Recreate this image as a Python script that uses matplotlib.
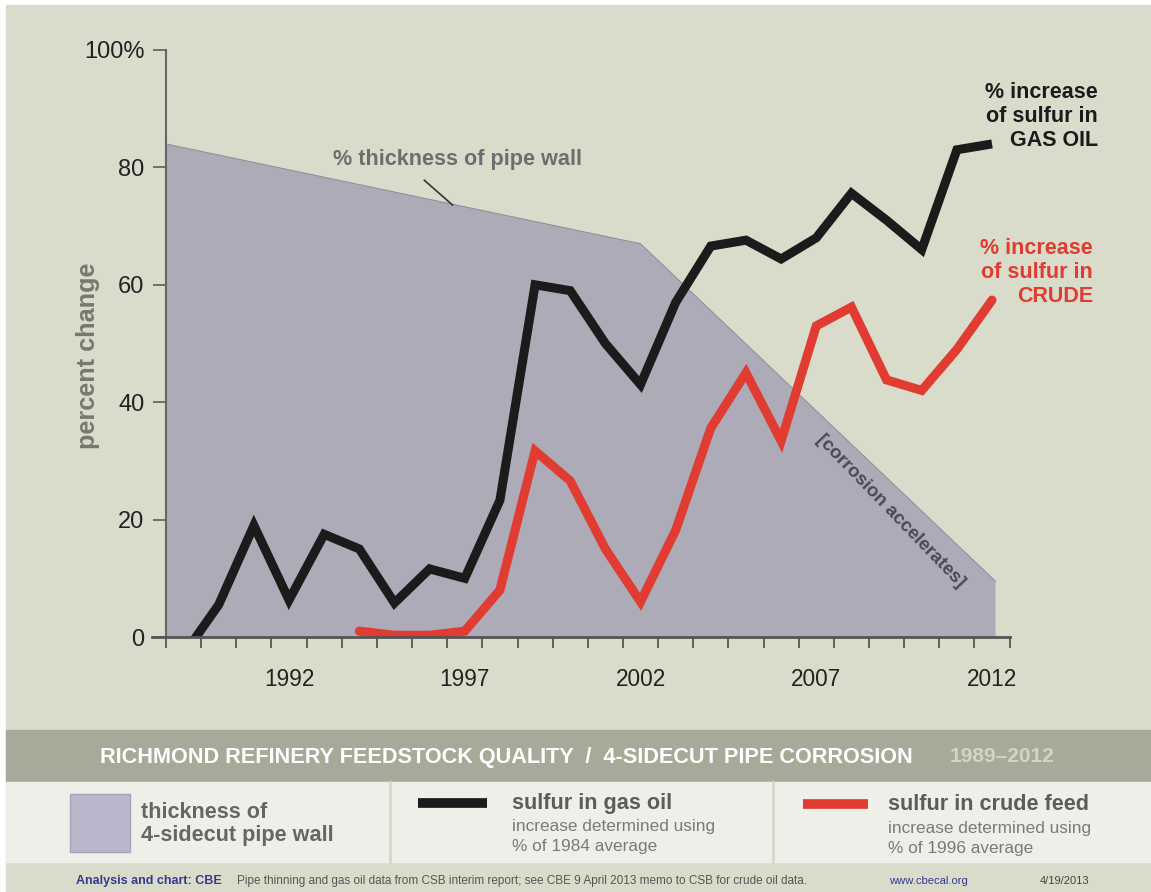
import matplotlib.pyplot as plt
from matplotlib.patches import Rectangle
import numpy as np

plt.rcParams['font.family'] = ['Liberation Sans', 'DejaVu Sans']

# data
years = list(range(1989, 2013))
gas_oil = [-3, 5.5, 19, 6.3, 17.5, 15, 5.8, 11.6, 10, 23.3, 60, 59, 50, 43,
           57, 66.6, 67.6, 64.4, 68, 75.6, 71, 66, 83, 84]
crude_years = list(range(1994, 2013))
crude = [1, 0.3, 0.3, 1, 8, 31.7, 26.6, 15, 6, 18.2, 35.6, 45, 33.4, 53,
         56.2, 43.8, 42, 49, 57.4]
wall_years = [1988.5, 2002, 2012.1]
wall = [84, 67, 9.5]
year_labels = [1992, 1997, 2002, 2007, 2012]
y_ticks = [0, 20, 40, 60, 80, 100]
y_labels = ['0', '20', '40', '60', '80', '100%']

W, H = 1151, 892
BG = '#dadccb'
WALL = '#adabb8'
BLACK = '#1b1b1b'
RED = '#e03c31'

fig = plt.figure(figsize=(W / 100, H / 100), dpi=100, facecolor='white')

# overlay in pixel coords for background, bands, legend, footer
ov = fig.add_axes([0, 0, 1, 1], zorder=-1)
ov.set_xlim(0, W)
ov.set_ylim(H, 0)
ov.axis('off')
ov.add_patch(Rectangle((6, 5), W, H, color=BG))
ov.add_patch(Rectangle((6, 730), W, 52, color='#a8aa99'))
ov.add_patch(Rectangle((6, 782), W, 80, color='#efefe9'))
for xs in (390, 773):
    ov.plot([xs, xs], [782, 862], color='#d6d7c9', lw=2)

ov.text(100, 757, 'RICHMOND REFINERY FEEDSTOCK QUALITY  /  4-SIDECUT PIPE CORROSION',
        color='white', fontsize=15.6, fontweight='bold', va='center')
ov.text(950, 757, '1989\u20132012', color='#d2d4c6', fontsize=15,
        fontweight='bold', va='center')

# legend
ov.add_patch(Rectangle((70, 794), 60, 58, facecolor='#b9b7cb',
                       edgecolor='#a6a4ba', lw=1))
ov.text(141, 813, 'thickness of', color='#666666', fontsize=15.6,
        fontweight='bold', va='center')
ov.text(141, 835, '4-sidecut pipe wall', color='#666666', fontsize=15.6,
        fontweight='bold', va='center')

ov.plot([418, 487], [803, 803], color=BLACK, lw=7, solid_capstyle='butt')
ov.text(512, 804, 'sulfur in gas oil', color='#5c5c5c', fontsize=15.6,
        fontweight='bold', va='center')
ov.text(512, 827, 'increase determined using', color='#7a7a7a',
        fontsize=12.4, va='center')
ov.text(512, 847, '% of 1984 average', color='#7a7a7a', fontsize=12.4,
        va='center')

ov.plot([803, 868], [804, 804], color=RED, lw=7, solid_capstyle='butt')
ov.text(888, 805, 'sulfur in crude feed', color='#5c5c5c', fontsize=15.6,
        fontweight='bold', va='center')
ov.text(888, 828, 'increase determined using', color='#7a7a7a',
        fontsize=12.4, va='center')
ov.text(888, 848, '% of 1996 average', color='#7a7a7a', fontsize=12.4,
        va='center')

# footer
ov.text(76, 881, 'Analysis and chart: CBE', color='#353b8c', fontsize=9,
        fontweight='bold', va='center')
ov.text(237, 881, 'Pipe thinning and gas oil data from CSB interim report; '
        'see CBE 9 April 2013 memo to CSB for crude oil data.',
        color='#555555', fontsize=8.5, va='center')
ov.text(889, 881, 'www.cbecal.org', color='#353b8c', fontsize=8.1, va='center')
ov.text(1040, 881, '4/19/2013', color='#444444', fontsize=8, va='center')

# series labels
for i, s in enumerate(['% increase', 'of sulfur in', 'GAS OIL']):
    ov.text(1098, 92 + i * 24.5, s, color=BLACK, fontsize=15.5,
            fontweight='bold', ha='right', va='center')
for i, s in enumerate(['% increase', 'of sulfur in', 'CRUDE']):
    ov.text(1093, 248 + i * 24.5, s, color=RED, fontsize=15.5,
            fontweight='bold', ha='right', va='center')
ov.text(88, 356, 'percent change', color='#77786e', fontsize=18.2,
        fontweight='bold', rotation=90, ha='center', va='center')

# main chart
ax = fig.add_axes([166 / W, (H - 637) / H, (1009.6 - 166) / W, (637 - 50) / H])
ax.patch.set_alpha(0)
ax.set_xlim(1988.5, 2012.5)
ax.set_ylim(0, 100)

ax.fill_between(wall_years, wall, 0, facecolor=WALL, edgecolor='none', zorder=1)
ax.plot(wall_years, wall, color='#8e8c9a', lw=0.7, zorder=1.5)
ax.plot(years, gas_oil, color=BLACK, lw=6.5, solid_joinstyle='miter',
        solid_capstyle='butt', zorder=3)
ax.plot(crude_years, crude, color=RED, lw=6.5, solid_joinstyle='miter',
        solid_capstyle='round', zorder=3)

ax.text(1996.8, 81.3, '% thickness of pipe wall', color='#6e6e6e', fontsize=15.6,
        fontweight='bold', ha='center', va='center')
ax.plot([1995.85, 1996.65], [77.8, 73.6], color='#333333', lw=1.2, zorder=2)
ax.text(2009.1, 21.5, '[corrosion accelerates]', color='#4a4a55', fontsize=13.5,
        fontweight='bold', rotation=-46, rotation_mode='anchor',
        ha='center', va='center')

for sp in ('top', 'right', 'bottom'):
    ax.spines[sp].set_visible(False)
ax.spines['left'].set_color('#666666')
ax.spines['left'].set_linewidth(1.5)
ax.spines['left'].set_bounds(0, 100)
ax.plot([1988.1, 2012.5], [0, 0], color='#555555', lw=2, clip_on=False, zorder=4)

ax.set_yticks(y_ticks)
ax.set_yticklabels(y_labels)
ax.tick_params(axis='y', length=9.5, width=1.3, color='#666666', pad=6,
               labelsize=17, labelcolor='#222222')
ax.set_xticks(year_labels)
ax.set_xticklabels([str(y) for y in year_labels])
ax.set_xticks(np.arange(1988.5, 2013, 1), minor=True)
ax.tick_params(axis='x', which='major', length=0, pad=22, labelsize=16.3,
               labelcolor='#222222')
ax.tick_params(axis='x', which='minor', length=8, width=1.3, color='#555555')

fig.savefig('out.png', dpi=100, facecolor='white')
